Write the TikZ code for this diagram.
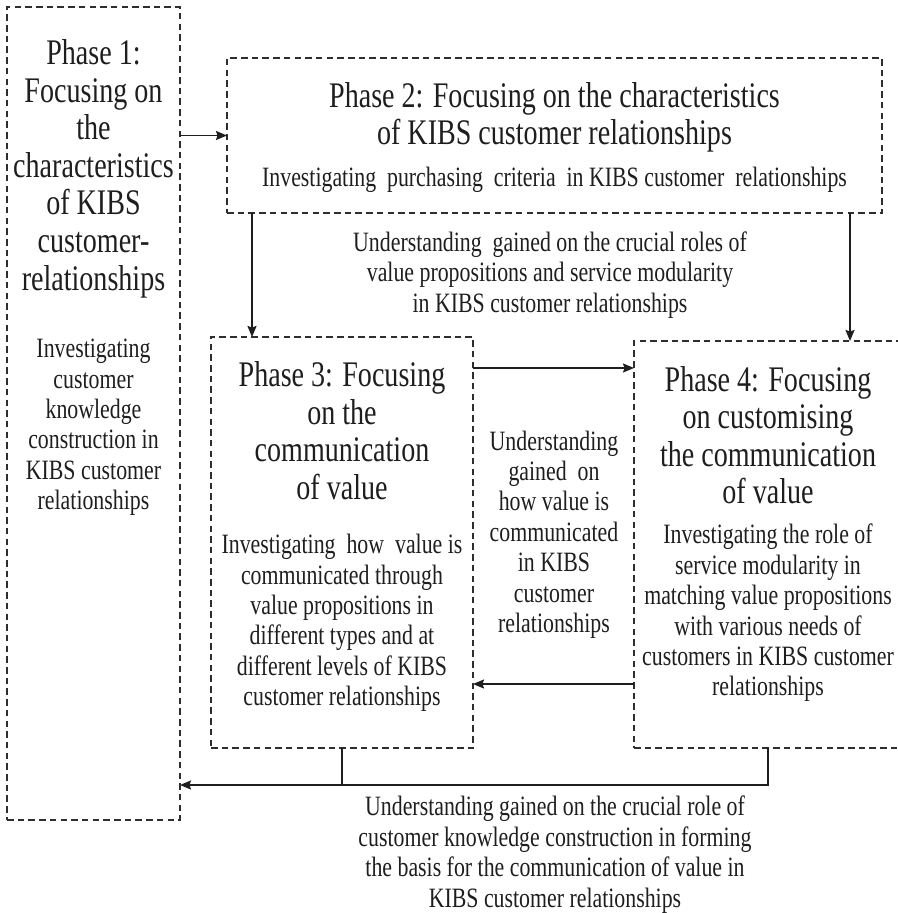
\documentclass[tikz,border=0pt]{standalone}
\usepackage{fontspec}
\setmainfont{Liberation Serif}[FakeStretch=0.78]
\usetikzlibrary{arrows.meta}
\definecolor{ink}{HTML}{1E1E1E}
\definecolor{edge}{HTML}{2E2E2E}
\tikzset{
  phasebox/.style={draw=edge, line width=1.6pt, dash pattern=on 6.5pt off 4.2pt,
    rectangle, inner sep=0pt, outer sep=0pt},
  titletext/.style={text=ink, inner sep=0pt, anchor=north, align=center,
    font=\fontsize{36}{37.6}\selectfont},
  bodytext/.style={text=ink, inner sep=0pt, anchor=north, align=center,
    font=\fontsize{28}{30.4}\selectfont},
  flow/.style={draw=ink, line width=1.6pt},
  arr/.style={flow, -{Stealth[length=11pt,width=9pt,inset=1.5pt]}}
}
\begin{document}
\begin{tikzpicture}[x=1pt,y=-1pt]
\useasboundingbox (0,0) rectangle (897,913);

% phase boxes
\node[phasebox, minimum width=173pt, minimum height=813pt] (box1) at (93.5,413.5) {};
\node[phasebox, minimum width=655pt, minimum height=155pt] (box2) at (554.5,135.5) {};
\node[phasebox, minimum width=262pt, minimum height=411pt] (box3) at (342,542.5) {};
\node[phasebox, minimum width=268pt, minimum height=407pt] (box4) at (768,544.5) {};

% phase 1
\node[titletext] (t1) at (93.5,39.4) {Phase 1:\\Focusing on\\the\\characteristics\\of KIBS\\customer-\\relationships};
\node[bodytext] (b1) at (93.5,339) {Investigating\\customer\\knowledge\\construction in\\KIBS customer\\relationships};

% phase 2
\node[titletext] (t2) at (554.5,82) {Phase 2: Focusing on the characteristics\\of KIBS customer relationships};
\node[bodytext] (b2) at (554.5,167) {Investigating\ \ purchasing\ \ criteria\ \ in KIBS customer\ \ relationships};

% phase 3
\node[titletext] (t3) at (342,361.5) {Phase 3: Focusing\\on the\\communication\\of value};
\node[bodytext] (b3) at (342,534) {Investigating\ \ how\ \ value is\\communicated through\\value propositions in\\different types and at\\different levels of KIBS\\customer relationships};

% phase 4
\node[titletext] (t4) at (768,366) {Phase 4: Focusing\\on customising\\the communication\\of value};
\node[bodytext] (b4) at (768,524) {Investigating the role of\\service modularity in\\matching value propositions\\with various needs of\\customers in KIBS customer\\relationships};

% understandings gained
\node[bodytext] (u2) at (550,231.5) {Understanding\ \ gained on the crucial roles of\\value propositions and service modularity\\in KIBS customer relationships};
\node[bodytext] (u3) at (554,430.5) {Understanding\\gained\ \ on\\how value is\\communicated\\in KIBS\\customer\\relationships};
\node[bodytext] (u4) at (555,796) {Understanding gained on the crucial role of\\customer knowledge construction in forming\\the basis for the communication of value in\\KIBS customer relationships};

% connector anchor points
\coordinate (p3top) at ([xshift=41pt]box3.north west);
\coordinate (p4top) at ([xshift=216pt]box4.north west);
\coordinate (r34) at (0,368);
\coordinate (r43) at (0,684);
\coordinate (rbot) at (0,785);

% connectors
\draw[arr] (box1.east |- box2.west) -- (box2.west);
\draw[arr] (p3top |- box2.south) -- (p3top);
\draw[arr] (p4top |- box2.south) -- (p4top);
\draw[arr] (box3.east |- r34) -- (box4.west |- r34);
\draw[arr] (box4.west |- r43) -- (box3.east |- r43);
\draw[flow] (box3.south) -- (box3.south |- rbot);
\draw[arr] (box4.south) -- (box4.south |- rbot) -- (box1.east |- rbot);
\end{tikzpicture}
\end{document}
